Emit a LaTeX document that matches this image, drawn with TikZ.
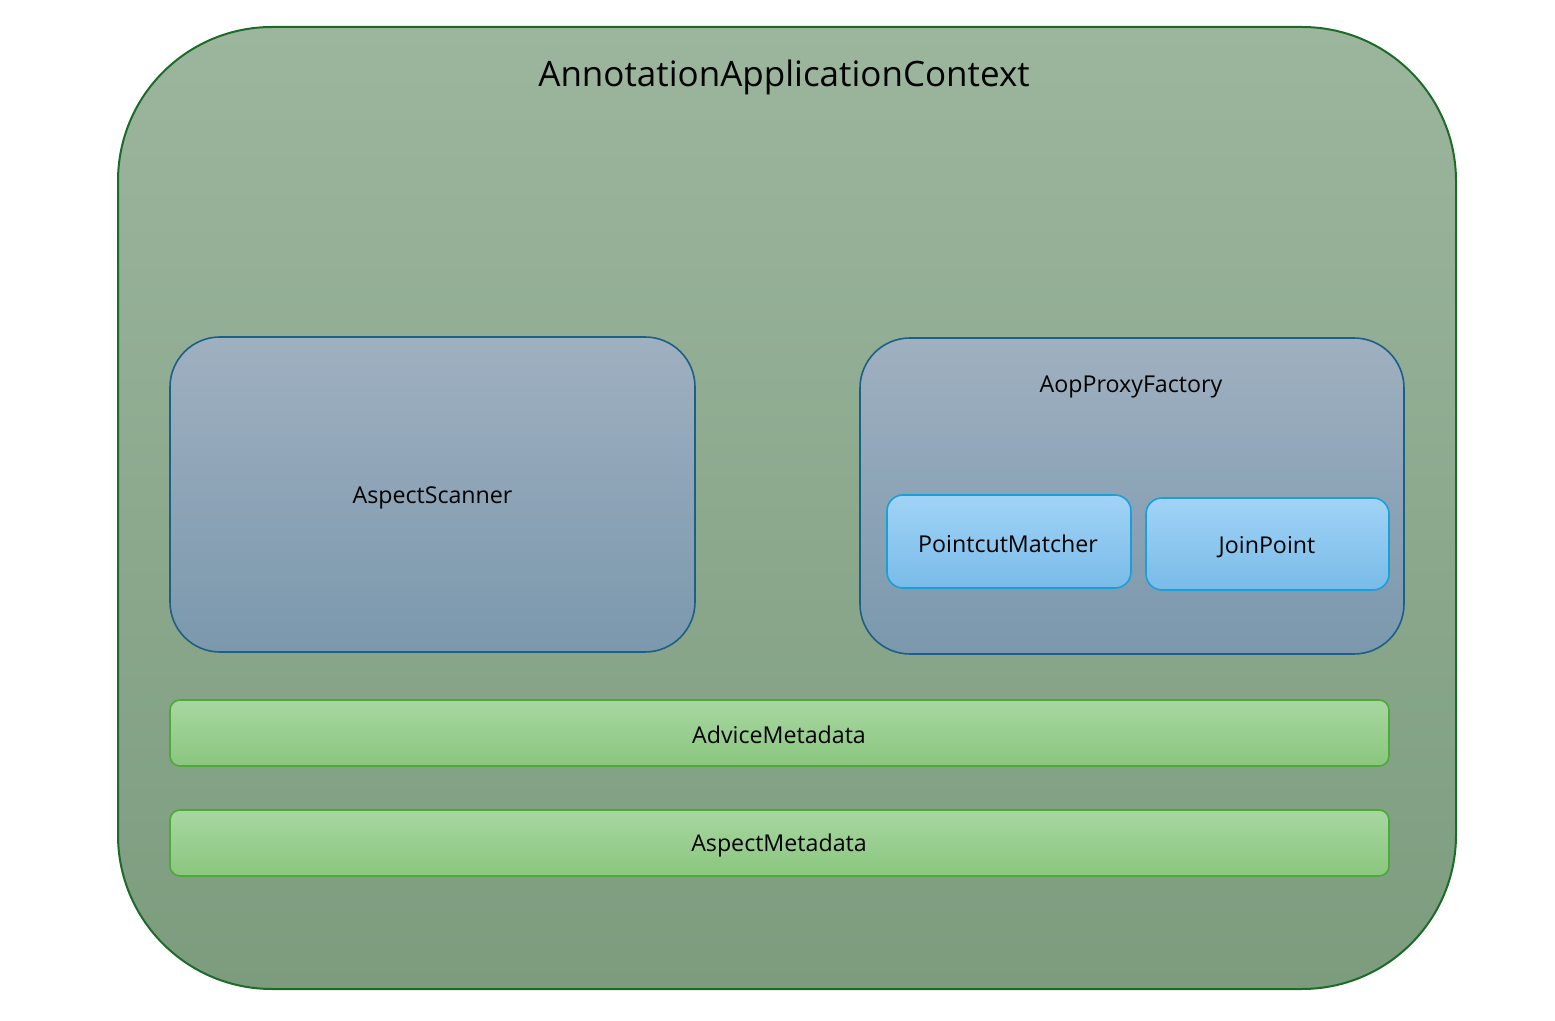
\documentclass[tikz,border=0pt]{standalone}
\usepackage{fontspec}
\setmainfont{Open Sans}
\definecolor{outerTop}{HTML}{9CB69E}
\definecolor{outerBot}{HTML}{7D9C7E}
\definecolor{outerLine}{HTML}{1C6B28}
\definecolor{blueTop}{HTML}{9FB0C0}
\definecolor{blueBot}{HTML}{7B98AD}
\definecolor{blueLine}{HTML}{1D5F86}
\definecolor{ltTop}{HTML}{A1D3F6}
\definecolor{ltBot}{HTML}{79BBE8}
\definecolor{ltLine}{HTML}{1AA0D8}
\definecolor{grTop}{HTML}{A7D7A1}
\definecolor{grBot}{HTML}{8AC67E}
\definecolor{grLine}{HTML}{4EA83A}
\tikzset{
  outerbox/.style={draw=outerLine, line width=1pt, top color=outerTop, bottom color=outerBot, rounded corners=77pt, inner sep=0pt},
  bluebox/.style={draw=blueLine, line width=0.8pt, top color=blueTop, bottom color=blueBot, rounded corners=25pt, inner sep=0pt},
  ltbox/.style={draw=ltLine, line width=0.8pt, top color=ltTop, bottom color=ltBot, rounded corners=8pt, inner sep=0pt},
  grbox/.style={draw=grLine, line width=0.8pt, top color=grTop, bottom color=grBot, rounded corners=5pt, inner sep=0pt},
  lbl/.style={font=\fontsize{11.6}{13}\selectfont, text=black, inner sep=0pt},
}
\begin{document}
\begin{tikzpicture}[x=0.5pt,y=-0.5pt]
\useasboundingbox (0,0) rectangle (1555,1021);
\node[outerbox, minimum width=669pt, minimum height=481pt] (ctx) at (787,508) {};
\node[lbl, font=\fontsize{17.5}{20}\selectfont] (ctxt) at (784,77) {AnnotationApplicationContext};
\node[bluebox, minimum width=262.5pt, minimum height=157.5pt] (scan) at (432.5,494.5) {};
\node[lbl] (scant) at (432.5,498) {AspectScanner};
\node[bluebox, minimum width=272pt, minimum height=158pt] (aop) at (1132,496) {};
\node[lbl] (aopt) at (1131,387) {AopProxyFactory};
\node[ltbox, minimum width=122pt, minimum height=46.5pt] (pcm) at (1009,541.5) {};
\node[lbl] (pcmt) at (1008,544) {PointcutMatcher};
\node[ltbox, minimum width=121.5pt, minimum height=46pt] (jp) at (1267.5,544) {};
\node[lbl] (jpt) at (1267,547) {JoinPoint};
\node[grbox, minimum width=609.5pt, minimum height=33pt] (adv) at (779.5,733) {};
\node[lbl] (advt) at (779,735) {AdviceMetadata};
\node[grbox, minimum width=609.5pt, minimum height=33pt] (asp) at (779.5,843) {};
\node[lbl] (aspt) at (779,845) {AspectMetadata};
\end{tikzpicture}
\end{document}
